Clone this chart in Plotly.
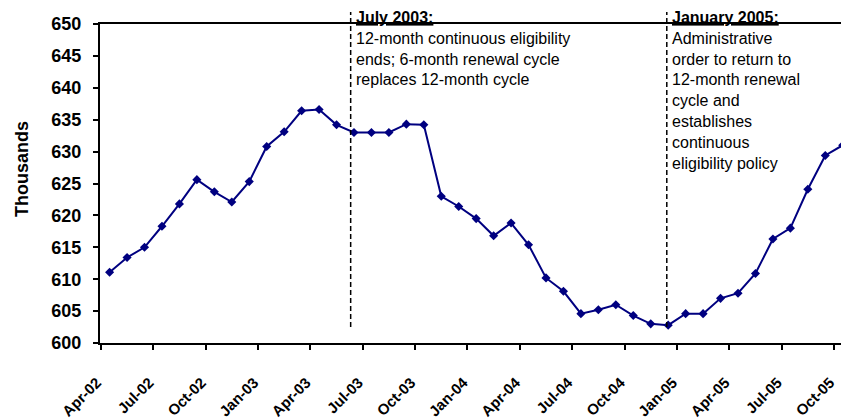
import plotly.graph_objects as go

# ---- data ----
months = ["Apr-02", "May-02", "Jun-02", "Jul-02", "Aug-02", "Sep-02", "Oct-02", "Nov-02", "Dec-02",
          "Jan-03", "Feb-03", "Mar-03", "Apr-03", "May-03", "Jun-03", "Jul-03", "Aug-03", "Sep-03",
          "Oct-03", "Nov-03", "Dec-03", "Jan-04", "Feb-04", "Mar-04", "Apr-04", "May-04", "Jun-04",
          "Jul-04", "Aug-04", "Sep-04", "Oct-04", "Nov-04", "Dec-04", "Jan-05", "Feb-05", "Mar-05",
          "Apr-05", "May-05", "Jun-05", "Jul-05", "Aug-05", "Sep-05", "Oct-05"]

enrollment = [611.1, 613.4, 615.0, 618.3, 621.8, 625.6, 623.7, 622.1, 625.3, 630.8,
              633.1, 636.4, 636.6, 634.2, 633.0, 633.0, 633.0, 634.3, 634.2, 623.0,
              621.4, 619.5, 616.8, 618.8, 615.4, 610.2, 608.1, 604.6, 605.2, 606.0,
              604.3, 603.0, 602.8, 604.6, 604.6, 607.0, 607.8, 610.9, 616.3, 618.0,
              624.1, 629.4, 631.0]

tick_labels = months[::3]

event_months = ["Jun-03", "Dec-04"]
event_offsets = [-0.19, -0.08]
event_titles = ["July 2003:", "January 2005:"]
event_texts = [
    ["12-month continuous eligibility", "ends; 6-month renewal cycle", "replaces 12-month cycle"],
    ["Administrative", "order to return to", "12-month renewal", "cycle and", "establishes",
     "continuous", "eligibility policy"],
]

# ---- figure ----
x_idx = list(range(len(months)))
FONT = "Liberation Sans, Arial, sans-serif"

fig = go.Figure()
fig.add_trace(go.Scatter(
    x=x_idx, y=enrollment, mode="lines+markers",
    line=dict(color="#000080", width=2),
    marker=dict(symbol="diamond", size=7, color="#000080"),
    hoverinfo="skip", showlegend=False,
))

H_PLOT_TOP, H_PLOT_BOT = 24, 343
PLOT_H = H_PLOT_BOT - H_PLOT_TOP

def py_to_paper(py):
    return (H_PLOT_BOT - py) / PLOT_H

shapes = []
annotations = []
for m, off, title, lines in zip(event_months, event_offsets, event_titles, event_texts):
    xv = months.index(m) + off
    shapes.append(dict(type="line", xref="x", yref="paper", x0=xv, x1=xv,
                       y0=py_to_paper(327), y1=py_to_paper(12),
                       line=dict(color="black", width=1.5, dash="5px,3px")))
    annotations.append(dict(
        xref="x", yref="paper", x=xv, y=py_to_paper(7), xanchor="left", yanchor="top",
        xshift=3, align="left", showarrow=False,
        text="<b><u>" + title + "</u></b><br>" + "<br>".join(lines),
        font=dict(family=FONT, size=16, color="black"),
    ))

annotations.append(dict(
    xref="paper", yref="paper", x=(22 - 100) / 741, y=py_to_paper(169),
    xanchor="center", yanchor="middle", textangle=-90, showarrow=False,
    text="Thousands", font=dict(family=FONT, size=18, color="black", weight="bold"),
))

fig.update_layout(
    width=841, height=419,
    margin=dict(l=100, r=0, t=H_PLOT_TOP, b=419 - H_PLOT_BOT, autoexpand=False),
    paper_bgcolor="white", plot_bgcolor="white",
    font=dict(family=FONT, color="black"),
    shapes=shapes, annotations=annotations,
    xaxis=dict(
        range=[-0.55, 41.9], showgrid=False, zeroline=False, automargin=False,
        showline=True, linecolor="black", linewidth=2, mirror=True,
        ticks="outside", ticklen=5, tickwidth=1.5, tickcolor="black",
        tickmode="array", tickvals=[months.index(t) - 0.5 for t in tick_labels], ticktext=tick_labels,
        tickangle=-45, tickfont=dict(family=FONT, size=15, color="black", weight="bold"),
        ticklabelstandoff=18, ticklabelshift=-4,
    ),
    yaxis=dict(
        range=[600, 650], dtick=5, tick0=600, showgrid=False, zeroline=False, automargin=False,
        showline=True, linecolor="black", linewidth=2,
        ticks="outside", ticklen=5, tickwidth=1.5, tickcolor="black",
        tickfont=dict(family=FONT, size=18, color="black", weight="bold"),
        ticklabelstandoff=8,
    ),
)

fig.write_html("out.html", config={"displayModeBar": False},
               post_script="document.body.style.margin='0';")
